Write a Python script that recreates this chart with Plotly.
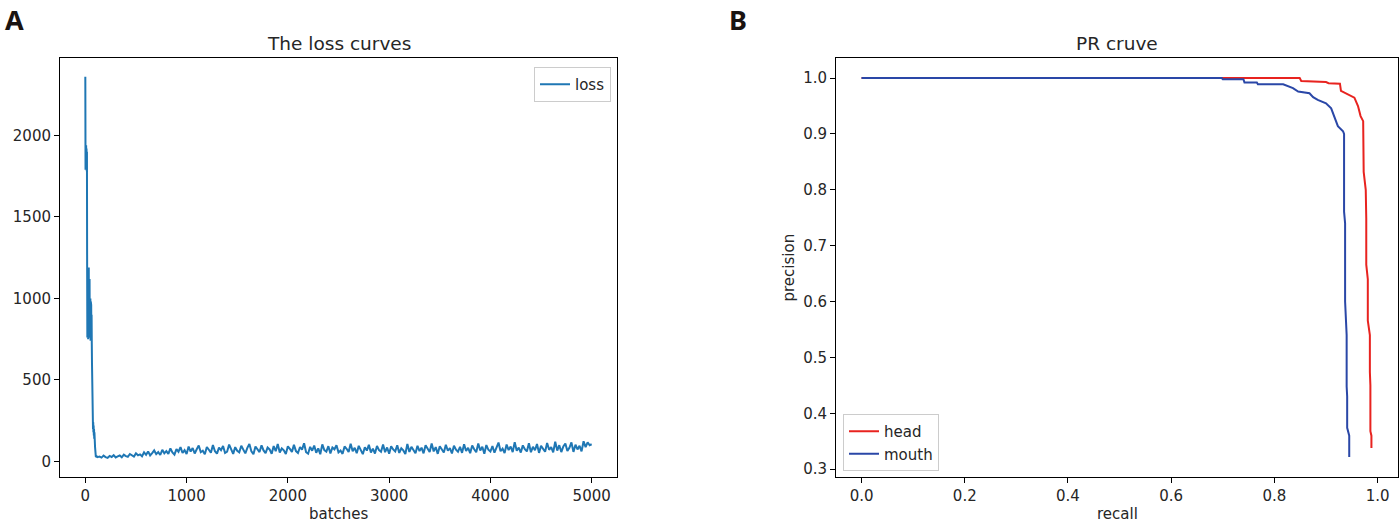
import plotly.graph_objects as go

# ---------------- data ----------------
# loss curve: early part (batch, loss)
loss_early_batches = [0, 2, 4, 6, 8, 10, 12, 14, 16, 18, 20, 22, 24, 26, 28, 30, 32, 34, 36, 38,
                      40, 42, 44, 46, 48, 50, 52, 54, 56, 58, 60, 62, 64, 66, 68, 70, 72, 74, 76, 78,
                      80, 82, 84, 86, 88, 90, 92, 94, 96, 98, 100, 104, 108, 112, 116, 120]
loss_early_values = [2360, 1790, 1960, 1820, 1940, 1800, 1920, 1780, 1900, 1200, 760, 1180, 800, 1150, 750, 1100, 820, 1190, 760, 1050,
                     850, 1120, 780, 1000, 900, 1000, 740, 980, 820, 960, 760, 900, 720, 600, 450, 350, 260, 300, 200, 240,
                     180, 220, 160, 200, 140, 180, 130, 120, 90, 60, 40, 28, 32, 26, 30, 27]
# loss curve: later part, one reading every 20 batches from 140 to 5000
loss_late_values = [
    30, 24, 36, 27, 22, 34, 28, 39, 25, 31, 37, 26, 42, 33, 29, 46, 35, 30, 50, 38,
    44, 32, 56, 41, 62, 37, 52, 68, 45, 58, 40, 72, 50, 64, 47, 80, 55, 42, 76, 60,
    88, 52, 70, 46, 92, 61, 83, 49, 75, 98, 57, 66, 45, 89, 72, 54, 101, 63, 48, 85,
    70, 95, 52, 60, 104, 78, 47, 88, 66, 56, 97, 73, 50, 84, 107, 62, 45, 92, 76, 58,
    99, 68, 51, 86, 74, 47, 95, 63, 108, 55, 80, 69, 46, 93, 77, 59, 102, 64, 52, 89,
    73, 112, 57, 48, 90, 66, 98, 54, 81, 45, 105, 70, 61, 94, 50, 86, 75, 100, 56, 67,
    47, 92, 78, 58, 109, 63, 84, 51, 96, 72, 45, 88, 67, 102, 55, 79, 49, 95, 70, 60,
    104, 57, 86, 48, 93, 74, 62, 99, 53, 81, 68, 46, 107, 59, 90, 71, 51, 96, 64, 85,
    50, 100, 76, 58, 111, 62, 88, 47, 94, 70, 55, 103, 66, 82, 49, 97, 73, 60, 90, 53,
    106, 64, 84, 51, 98, 75, 57, 110, 68, 91, 48, 101, 72, 61, 95, 54, 86, 116, 63, 79,
    52, 104, 70, 92, 58, 118, 66, 85, 55, 99, 75, 62, 112, 57, 90, 69, 107, 53, 96, 80,
    60, 114, 72, 88, 56, 121, 67, 100, 58, 93, 110, 64, 84, 117, 59, 103, 74, 96, 62, 124,
    88, 118, 100, 106,
]
loss_late_batches = list(range(140, 5001, 20))

loss_batches = loss_early_batches + loss_late_batches
loss_values = loss_early_values + loss_late_values

loss_xticks = [0, 1000, 2000, 3000, 4000, 5000]
loss_yticks = [0, 500, 1000, 1500, 2000]

# PR curves
head_recall = [0.0, 0.849, 0.852, 0.88, 0.90, 0.905, 0.927, 0.929, 0.945, 0.955, 0.962, 0.967, 0.972,
               0.973, 0.977, 0.978, 0.978, 0.981, 0.981, 0.985, 0.985, 0.986, 0.986, 0.988, 0.988]
head_precision = [1.0, 1.0, 0.995, 0.994, 0.993, 0.991, 0.990, 0.977, 0.970, 0.965, 0.950, 0.932, 0.923,
                  0.832, 0.80, 0.749, 0.666, 0.64, 0.566, 0.54, 0.474, 0.45, 0.368, 0.36, 0.338]
mouth_recall = [0.0, 0.698, 0.70, 0.74, 0.742, 0.766, 0.768, 0.817, 0.836, 0.846, 0.868, 0.875, 0.884,
                0.900, 0.910, 0.917, 0.923, 0.933, 0.935, 0.935, 0.937, 0.937, 0.938, 0.938, 0.940,
                0.940, 0.941, 0.941, 0.945, 0.945]
mouth_precision = [1.0, 1.0, 0.998, 0.998, 0.992, 0.992, 0.989, 0.989, 0.982, 0.976, 0.973, 0.966, 0.961,
                   0.955, 0.946, 0.929, 0.914, 0.905, 0.90, 0.761, 0.74, 0.60, 0.58, 0.554, 0.54,
                   0.448, 0.43, 0.374, 0.36, 0.322]
pr_xticks = [0.0, 0.2, 0.4, 0.6, 0.8, 1.0]
pr_yticks = [0.3, 0.4, 0.5, 0.6, 0.7, 0.8, 0.9, 1.0]

# ---------------- figure ----------------
W, H = 1400, 523
FONT = "DejaVu Sans"
TXT = "#262626"

fig = go.Figure()

fig.add_trace(go.Scatter(x=loss_batches, y=loss_values, mode="lines", name="loss",
                         line=dict(color="#1f77b4", width=2), xaxis="x", yaxis="y",
                         legend="legend"))
fig.add_trace(go.Scatter(x=head_recall, y=head_precision, mode="lines", name="head",
                         line=dict(color="#e8231f", width=2), xaxis="x2", yaxis="y2",
                         legend="legend2"))
fig.add_trace(go.Scatter(x=mouth_recall, y=mouth_precision, mode="lines", name="mouth",
                         line=dict(color="#2a47a7", width=2), xaxis="x2", yaxis="y2",
                         legend="legend2"))

def px(x):
    return x / W

def py(y):
    return 1 - y / H

ydom = [py(477), py(58)]
axis_common = dict(showline=True, linecolor="black", linewidth=1, mirror=True,
                   ticks="outside", ticklen=5, tickcolor="black", tickwidth=1,
                   showgrid=False, zeroline=False,
                   tickfont=dict(family=FONT, size=15, color=TXT))

fig.update_layout(
    width=W, height=H,
    margin=dict(l=0, r=0, t=0, b=0),
    paper_bgcolor="white", plot_bgcolor="white",
    font=dict(family=FONT, color=TXT),
    xaxis=dict(domain=[px(60), px(617)], range=[-250, 5250], tickvals=loss_xticks,
               anchor="y", **axis_common),
    yaxis=dict(domain=ydom, range=[-95, 2475], tickvals=loss_yticks,
               anchor="x", **axis_common),
    xaxis2=dict(domain=[px(836), px(1398)], range=[-0.0495, 1.0395], tickvals=pr_xticks,
                tickformat=".1f", anchor="y2", **axis_common),
    yaxis2=dict(domain=ydom, range=[0.286, 1.036], tickvals=pr_yticks,
                tickformat=".1f", anchor="x2", **axis_common),
    legend=dict(x=px(611), y=py(67), xanchor="right", yanchor="top",
                bgcolor="white", bordercolor="#cccccc", borderwidth=1,
                font=dict(family=FONT, size=15, color=TXT)),
    legend2=dict(x=px(843), y=py(471), xanchor="left", yanchor="bottom",
                 bgcolor="white", bordercolor="#cccccc", borderwidth=1,
                 font=dict(family=FONT, size=15, color=TXT), tracegroupgap=0),
    showlegend=True,
)

ann = [
    dict(text="The loss curves", x=px(338.5), y=py(43), size=18.5),
    dict(text="PR cruve", x=px(1117), y=py(43), size=18.5),
    dict(text="batches", x=px(338.5), y=py(514), size=15),
    dict(text="recall", x=px(1117), y=py(514), size=15),
]
for a in ann:
    fig.add_annotation(text=a["text"], x=a["x"], y=a["y"], xref="paper", yref="paper",
                       xanchor="center", yanchor="middle", showarrow=False,
                       font=dict(family=FONT, size=a["size"], color=TXT))
fig.add_annotation(text="precision", x=px(788), y=py(267.5), xref="paper", yref="paper",
                   xanchor="center", yanchor="middle", showarrow=False, textangle=-90,
                   font=dict(family=FONT, size=15, color=TXT))
for lbl, xx in (("A", 14), ("B", 738)):
    fig.add_annotation(text="<b>%s</b>" % lbl, x=px(xx), y=py(20), xref="paper", yref="paper",
                       xanchor="center", yanchor="middle", showarrow=False,
                       font=dict(family="Noto Sans", size=27, color="#1a1311"))

fig.write_html(
    "out.html",
    config={"displayModeBar": False},
    post_script="document.body.style.margin='0';document.body.style.padding='0';"
                "document.documentElement.style.overflow='hidden';",
)
